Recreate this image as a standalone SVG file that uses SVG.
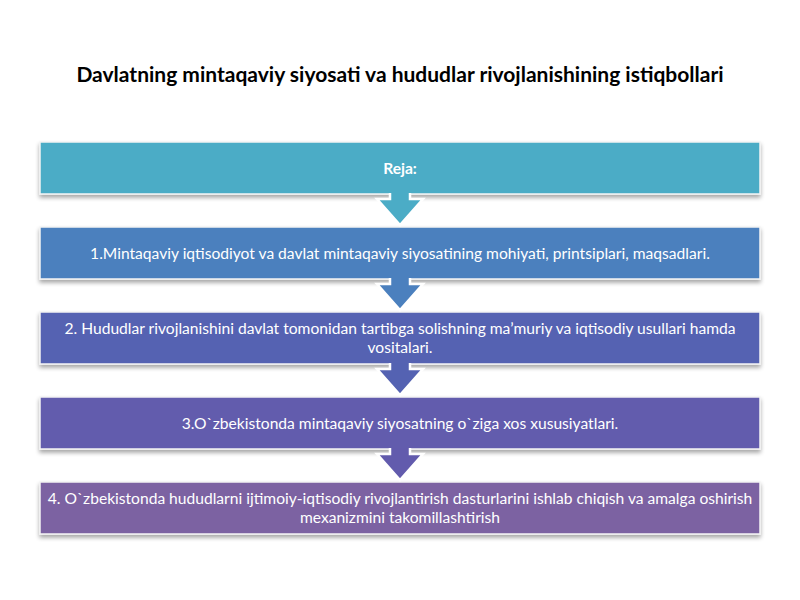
<svg xmlns="http://www.w3.org/2000/svg" width="800" height="600" viewBox="0 0 800 600">
<defs>
<filter id="sh" x="-5%" y="-20%" width="110%" height="150%">
<feGaussianBlur in="SourceAlpha" stdDeviation="2"/>
<feOffset dx="0" dy="3" result="b"/>
<feComponentTransfer><feFuncA type="linear" slope="0.35"/></feComponentTransfer>
<feMerge><feMergeNode/><feMergeNode in="SourceGraphic"/></feMerge>
</filter>
</defs>
<style>
.box{stroke:#f4f4f4;stroke-width:1.5;filter:url(#sh)}
.arr{stroke:#ffffff;stroke-width:2.5;stroke-linejoin:miter}
.t{font-family:Lato,"Liberation Sans",sans-serif;font-size:15.6px;fill:#ffffff;text-anchor:middle}
.title{font-family:Lato,"Liberation Sans",sans-serif;font-size:21px;font-weight:bold;fill:#000000;text-anchor:middle}
</style>
<rect width="800" height="600" fill="#ffffff"/>
<text class="title" x="400" y="82">Davlatning mintaqaviy siyosati va hududlar rivojlanishining istiqbollari</text>
<g id="node0"><rect class="box" x="40" y="142" width="720" height="52" fill="#4BACC6"/>
<text class="t" x="400" y="174" font-weight="bold">Reja:</text></g>
<g id="node1"><rect class="box" x="40" y="227" width="720" height="52" fill="#4B80BE"/>
<text class="t" x="400" y="259">1.Mintaqaviy iqtisodiyot va davlat mintaqaviy siyosatining mohiyati, printsiplari, maqsadlari.</text></g>
<g id="node2"><rect class="box" x="40" y="312" width="720" height="52" fill="#5462B2"/>
<text class="t" x="400" y="334">2. Hududlar rivojlanishini davlat tomonidan tartibga solishning ma’muriy va iqtisodiy usullari hamda</text>
<text class="t" x="400" y="353">vositalari.</text></g>
<g id="node3"><rect class="box" x="40" y="397" width="720" height="52" fill="#625BAD"/>
<text class="t" x="400" y="429">3.O`zbekistonda mintaqaviy siyosatning o`ziga xos xususiyatlari.</text></g>
<g id="node4"><rect class="box" x="40" y="482" width="720" height="52" fill="#7C62A2"/>
<text class="t" x="400" y="504">4. O`zbekistonda hududlarni ijtimoiy-iqtisodiy rivojlantirish dasturlarini ishlab chiqish va amalga oshirish</text>
<text class="t" x="400" y="523">mexanizmini takomillashtirish</text></g>
<g id="connectors">
<path class="arr" fill="#4BACC6" d="M390,193 V199 H377 L400,225 L423,199 H410 V193"/>
<path class="arr" fill="#4B80BE" d="M390,278 V284 H377 L400,310 L423,284 H410 V278"/>
<path class="arr" fill="#5462B2" d="M390,363 V369 H377 L400,395 L423,369 H410 V363"/>
<path class="arr" fill="#625BAD" d="M390,448 V454 H377 L400,480 L423,454 H410 V448"/>
</g>
</svg>
